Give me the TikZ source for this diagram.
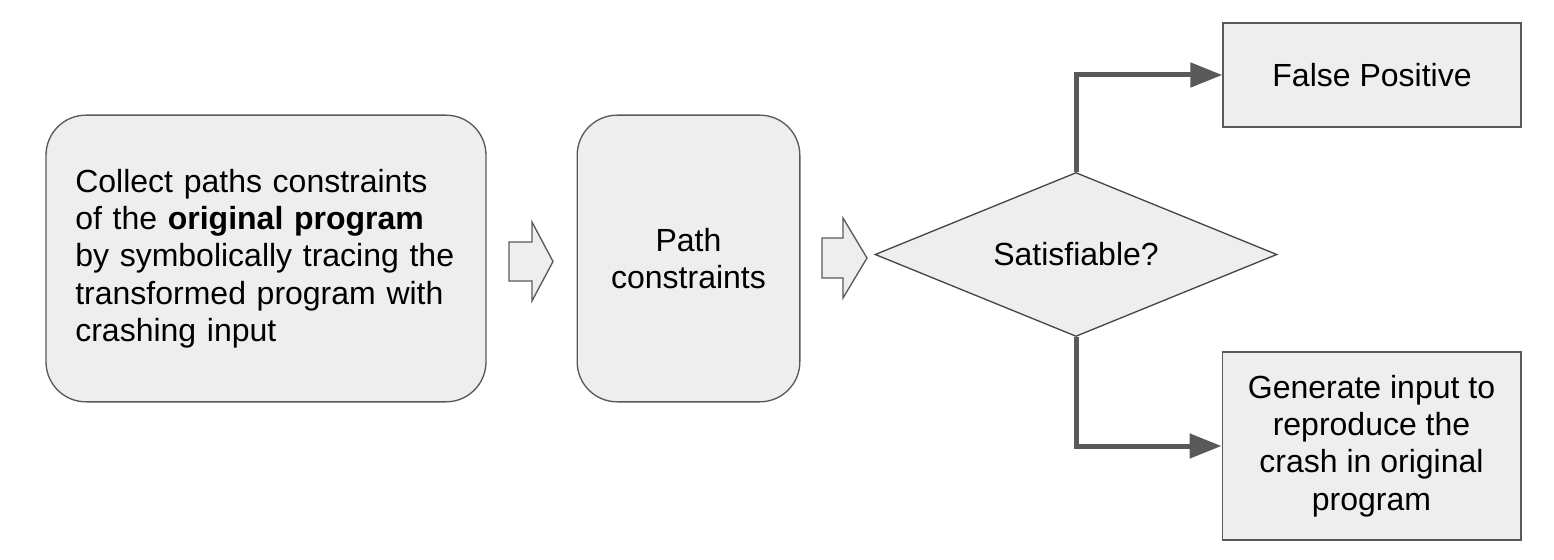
\documentclass[tikz,border=0pt]{standalone}
\usepackage{fontspec}
\setmainfont{Liberation Sans}
\usetikzlibrary{shapes.geometric,arrows.meta}

\definecolor{boxfill}{HTML}{EEEEEE}
\definecolor{boxline}{HTML}{595959}

\tikzset{
  roundbox/.style={draw=boxline,fill=boxfill,line width=1pt,rounded corners=30pt,inner sep=0pt},
  plainbox/.style={draw=boxline,fill=boxfill,line width=1pt,inner sep=0pt,align=center},
  decision/.style={diamond,aspect=2.45,draw=boxline!80!black,fill=boxfill,line width=1pt,inner sep=0pt},
  blockarrow/.style={draw=boxline,fill=boxfill,line width=1pt,line join=miter},
  flow/.style={draw=boxline,line width=3.75pt,-{Triangle[length=24pt,width=18pt]}}
}

\begin{document}
\begin{tikzpicture}[x=0.75pt,y=-0.75pt,font=\fontsize{24}{28}\selectfont]
\useasboundingbox (0,0) rectangle (1554,560);

\node[roundbox,minimum width=330pt,minimum height=215pt,text width=286pt,align=left] (collect) at (266,258.5)
  {Collect paths constraints of the \textbf{original program} by symbolically tracing the transformed program with crashing input};
\node[roundbox,minimum width=167pt,minimum height=215pt,align=center] (constr) at (688.5,258.5) {Path\\constraints};
\node[decision,minimum width=301.5pt,minimum height=123pt] (sat) at (1076,254.5) {Satisfiable?};
\node[plainbox,minimum width=223.5pt,minimum height=78pt] (fp) at (1372,75) {False Positive};
\node[plainbox,minimum width=224pt,minimum height=141pt] (gen) at (1371.5,446)
  {Generate input to\\reproduce the\\crash in original\\program};

% block arrows between the steps
\draw[blockarrow] (509,242) -- (532,242) -- (532,222) -- (553,261.5) -- (532,301) -- (532,281) -- (509,281) -- cycle;
\draw[blockarrow] (822,238) -- (843,238) -- (843,218) -- (867,258) -- (843,298) -- (843,278) -- (822,278) -- cycle;

\draw[flow] (sat.north) |- (fp.west);
\draw[flow] (sat.south) |- (gen.west);
\end{tikzpicture}
\end{document}
